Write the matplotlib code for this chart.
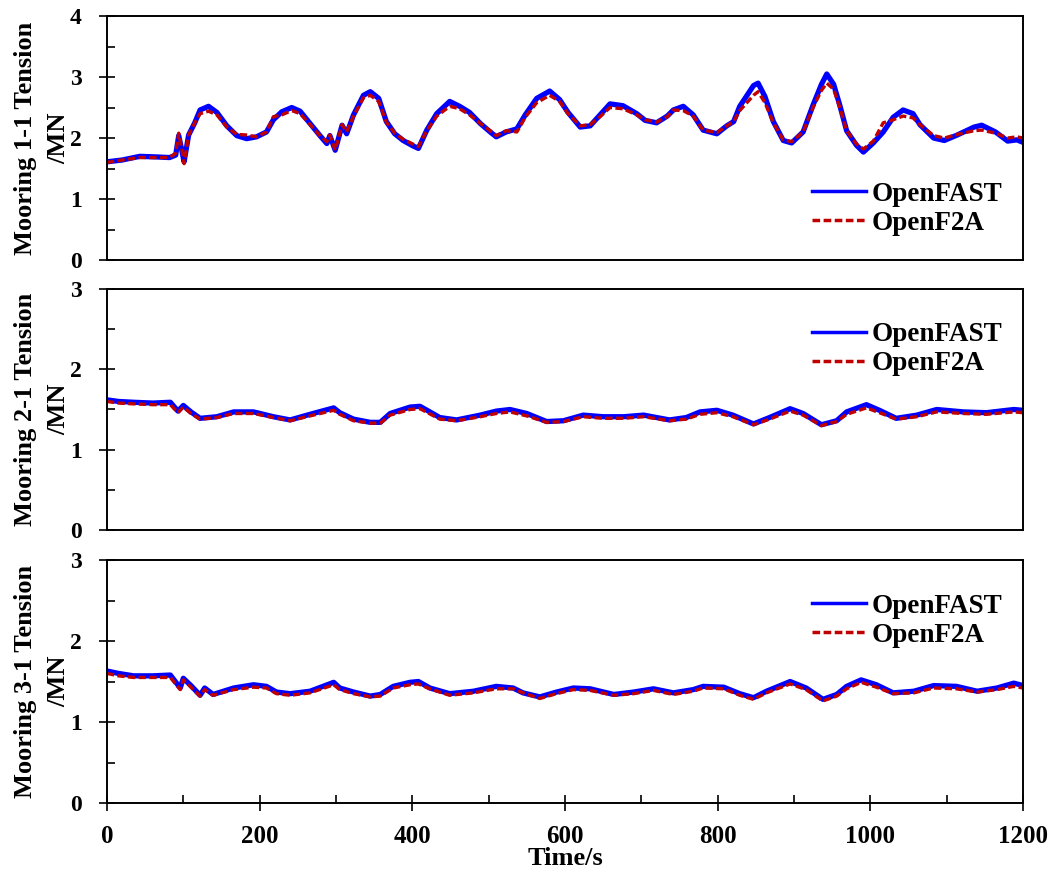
import matplotlib
matplotlib.use("Agg")
import matplotlib.pyplot as plt
from matplotlib.ticker import MultipleLocator

plt.rcParams['font.family'] = ['Liberation Serif', 'DejaVu Serif']
plt.rcParams['font.weight'] = 'bold'

# Mooring 1-1 tension (MN)
t1 = [0, 20, 43, 65, 82, 90, 94, 98, 101, 107, 115, 122, 133, 144, 157,
      170, 183, 196, 209, 218, 229, 242, 253, 264, 279, 288, 292, 299, 308, 314,
      323, 336, 345, 356, 366, 377, 388, 401, 408, 419, 432, 449, 462, 475, 489,
      502, 510, 523, 537, 548, 563, 580, 593, 604, 620, 633, 646, 659, 676, 694,
      705, 720, 734, 742, 755, 768, 781, 799, 812, 821, 829, 847, 853, 862, 873,
      886, 897, 912, 925, 936, 943, 952, 960, 969, 982, 991, 1004, 1017, 1030, 1043,
      1056, 1065, 1083, 1097, 1114, 1136, 1146, 1164, 1180, 1192, 1200]
fast1 = [1.61, 1.64, 1.70, 1.69, 1.68, 1.72, 2.04, 1.80, 1.61, 2.05, 2.25, 2.46, 2.52, 2.42, 2.20,
         2.04, 1.99, 2.02, 2.10, 2.30, 2.43, 2.50, 2.44, 2.27, 2.04, 1.91, 2.04, 1.80, 2.21, 2.07,
         2.38, 2.70, 2.76, 2.65, 2.27, 2.07, 1.96, 1.87, 1.83, 2.13, 2.40, 2.60, 2.52, 2.42, 2.24,
         2.10, 2.02, 2.10, 2.15, 2.38, 2.65, 2.77, 2.63, 2.42, 2.18, 2.20, 2.38, 2.56, 2.53, 2.40,
         2.29, 2.25, 2.36, 2.46, 2.52, 2.38, 2.13, 2.07, 2.20, 2.27, 2.52, 2.86, 2.90, 2.68, 2.27,
         1.96, 1.92, 2.10, 2.54, 2.88, 3.05, 2.88, 2.54, 2.12, 1.88, 1.77, 1.92, 2.10, 2.34, 2.46,
         2.40, 2.22, 2.00, 1.96, 2.05, 2.18, 2.21, 2.10, 1.95, 1.97, 1.93]
f2a1 = [1.60, 1.64, 1.68, 1.68, 1.68, 1.75, 2.08, 1.82, 1.58, 2.05, 2.25, 2.40, 2.44, 2.38, 2.18,
        2.06, 2.05, 2.02, 2.10, 2.35, 2.38, 2.45, 2.40, 2.25, 2.04, 1.94, 2.05, 1.80, 2.22, 2.10,
        2.36, 2.66, 2.70, 2.60, 2.26, 2.08, 1.98, 1.90, 1.86, 2.12, 2.36, 2.52, 2.48, 2.38, 2.24,
        2.12, 2.04, 2.12, 2.10, 2.34, 2.58, 2.70, 2.60, 2.40, 2.20, 2.22, 2.35, 2.50, 2.48, 2.38,
        2.30, 2.26, 2.35, 2.46, 2.45, 2.36, 2.13, 2.09, 2.20, 2.27, 2.45, 2.70, 2.76, 2.58, 2.25,
        1.97, 1.94, 2.10, 2.50, 2.78, 2.90, 2.80, 2.50, 2.12, 1.90, 1.82, 1.95, 2.25, 2.30, 2.36,
        2.33, 2.22, 2.04, 2.00, 2.06, 2.12, 2.13, 2.08, 2.00, 2.02, 2.00]

# Mooring 2-1 tension (MN)
t2 = [0, 15, 35, 60, 83, 93, 100, 110, 122, 144, 166, 192, 218, 240, 266,
      297, 305, 323, 345, 358, 371, 397, 410, 436, 458, 489, 510, 528, 550, 576,
      598, 624, 650, 677, 703, 737, 759, 777, 799, 820, 847, 868, 895, 912, 936,
      956, 969, 995, 1012, 1034, 1061, 1087, 1122, 1152, 1188, 1200]
fast2 = [1.62, 1.60, 1.59, 1.58, 1.59, 1.48, 1.55, 1.47, 1.39, 1.41, 1.47, 1.47, 1.41, 1.37, 1.44,
         1.52, 1.46, 1.38, 1.34, 1.34, 1.45, 1.53, 1.54, 1.40, 1.37, 1.43, 1.48, 1.50, 1.45, 1.35,
         1.36, 1.43, 1.41, 1.41, 1.43, 1.37, 1.40, 1.47, 1.49, 1.43, 1.32, 1.40, 1.51, 1.45, 1.31,
         1.36, 1.47, 1.56, 1.49, 1.39, 1.43, 1.50, 1.47, 1.46, 1.50, 1.49]
f2a2 = [1.60, 1.58, 1.57, 1.56, 1.56, 1.46, 1.53, 1.45, 1.38, 1.40, 1.45, 1.45, 1.40, 1.36, 1.42,
        1.49, 1.44, 1.36, 1.33, 1.33, 1.43, 1.50, 1.51, 1.38, 1.36, 1.41, 1.45, 1.47, 1.42, 1.34,
        1.35, 1.41, 1.39, 1.39, 1.41, 1.36, 1.38, 1.44, 1.46, 1.41, 1.31, 1.38, 1.48, 1.43, 1.30,
        1.35, 1.44, 1.52, 1.46, 1.38, 1.41, 1.47, 1.45, 1.44, 1.47, 1.46]

# Mooring 3-1 tension (MN)
t3 = [0, 15, 35, 60, 83, 96, 100, 110, 122, 128, 139, 166, 192, 209, 222,
      240, 266, 297, 305, 323, 345, 358, 375, 397, 408, 423, 449, 480, 510, 532,
      545, 567, 589, 611, 633, 664, 690, 716, 742, 768, 781, 808, 829, 847, 864,
      895, 916, 938, 956, 969, 988, 1008, 1030, 1057, 1083, 1113, 1140, 1166, 1188, 1200]
fast3 = [1.63, 1.60, 1.57, 1.57, 1.58, 1.42, 1.54, 1.45, 1.33, 1.42, 1.34, 1.42, 1.46, 1.44, 1.37,
         1.35, 1.38, 1.49, 1.42, 1.37, 1.32, 1.34, 1.44, 1.49, 1.50, 1.42, 1.35, 1.38, 1.44, 1.42,
         1.36, 1.31, 1.37, 1.42, 1.41, 1.34, 1.37, 1.41, 1.36, 1.40, 1.44, 1.43, 1.35, 1.30, 1.38,
         1.50, 1.42, 1.28, 1.34, 1.44, 1.52, 1.46, 1.36, 1.38, 1.45, 1.44, 1.38, 1.42, 1.48, 1.45]
f2a3 = [1.60, 1.57, 1.55, 1.55, 1.55, 1.40, 1.52, 1.43, 1.32, 1.40, 1.33, 1.40, 1.43, 1.42, 1.35,
        1.33, 1.36, 1.46, 1.40, 1.35, 1.31, 1.32, 1.42, 1.46, 1.47, 1.41, 1.33, 1.36, 1.41, 1.41,
        1.36, 1.29, 1.35, 1.40, 1.39, 1.33, 1.35, 1.39, 1.34, 1.38, 1.42, 1.41, 1.33, 1.28, 1.36,
        1.47, 1.40, 1.26, 1.32, 1.41, 1.49, 1.43, 1.35, 1.36, 1.42, 1.41, 1.37, 1.40, 1.44, 1.42]

panels = [
    (t1, fast1, f2a1, 4, 'Mooring 1-1 Tension\n/MN', 0.21),
    (t2, fast2, f2a2, 3, 'Mooring 2-1 Tension\n/MN', 0.75),
    (t3, fast3, f2a3, 3, 'Mooring 3-1 Tension\n/MN', 0.75),
]

fig = plt.figure(figsize=(10.56, 8.72), dpi=100)
boxes = [(0.1013, 0.7018, 0.8674, 0.2798),
         (0.1013, 0.3922, 0.8674, 0.2764),
         (0.1013, 0.0791, 0.8674, 0.2787)]

for i, (t, fast, f2a, ymax, label, legy) in enumerate(panels):
    ax = fig.add_axes(boxes[i])
    ax.plot(t, fast, color='#0000FF', lw=3.8, label='OpenFAST', solid_joinstyle='round')
    ax.plot(t, f2a, color='#C00000', lw=2.4, ls=(0, (2.2, 1.0)), label='OpenF2A')
    ax.set_xlim(0, 1200)
    ax.set_ylim(0, ymax)
    ax.yaxis.set_major_locator(MultipleLocator(1))
    ax.yaxis.set_minor_locator(MultipleLocator(0.5))
    ax.tick_params(axis='y', which='major', direction='inout', length=12, width=1.2,
                   labelsize=17, pad=12)
    ax.tick_params(axis='y', which='minor', direction='in', length=5.5, width=1.2)
    ax.set_ylabel(label, fontsize=19, fontweight='bold', linespacing=1.55)
    ax.yaxis.set_label_coords(-0.040, 0.5)
    for s in ax.spines.values():
        s.set_linewidth(1.4)
    if i < 2:
        ax.tick_params(axis='x', which='both', bottom=False, labelbottom=False)
    else:
        ax.xaxis.set_major_locator(MultipleLocator(200))
        ax.xaxis.set_minor_locator(MultipleLocator(100))
        ax.tick_params(axis='x', which='major', direction='inout', length=12, width=1.2,
                       labelsize=18, pad=10)
        ax.tick_params(axis='x', which='minor', direction='in', length=5.5, width=1.2)
        ax.set_xlabel('Time/s', fontsize=19, fontweight='bold', labelpad=-1)
    leg = ax.legend(loc='center right', bbox_to_anchor=(0.995, legy), frameon=False,
                    fontsize=19.5, handlelength=2.0, handletextpad=0.2, labelspacing=0.15,
                    borderaxespad=0.2)
    for ln in leg.get_lines():
        ln.set_linewidth(2.5)

plt.savefig('out.png', dpi=100)
